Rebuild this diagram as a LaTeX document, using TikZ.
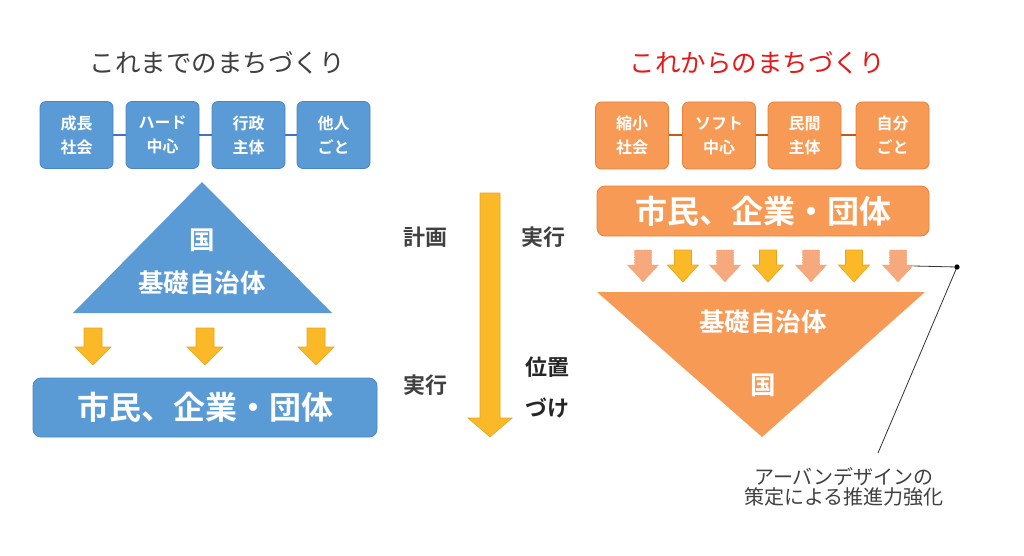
\documentclass[tikz,border=0pt]{standalone}
\usepackage{fontspec}
\setmainfont{Noto Sans CJK JP}
\newfontfamily\jpb{Noto Sans CJK JP Bold}
\definecolor{bfill}{HTML}{5B9BD5}
\definecolor{bline}{HTML}{4A86C0}
\definecolor{bconn}{HTML}{4472C4}
\definecolor{ofill}{HTML}{F79A55}
\definecolor{oline}{HTML}{E8803A}
\definecolor{oconn}{HTML}{C55A11}
\definecolor{salm}{HTML}{F5A97C}
\definecolor{salml}{HTML}{F0A070}
\definecolor{gold}{HTML}{FBB927}
\definecolor{goldl}{HTML}{E8A520}
\definecolor{txtg}{HTML}{404040}
\definecolor{hred}{HTML}{E81818}
\newcommand\myarrow[7]{% cx, top, shaft half, head half, head y, tip y, style
  \fill[#7] (#1-#3,#2) -- (#1+#3,#2) -- (#1+#3,#5) -- (#1+#4,#5) -- (#1,#6) -- (#1-#4,#5) -- (#1-#3,#5) -- cycle;}
\begin{document}
\begin{tikzpicture}[x=1pt,y=-1pt,
  sbox/.style={rounded corners=6pt,minimum width=73pt,minimum height=67pt,inner sep=0pt,align=center,text=white,font=\jpb\fontsize{16}{24}\selectfont},
  lbox/.style={sbox,fill=bfill,draw=bline,line width=0.8pt},
  rbox/.style={sbox,fill=ofill,draw=oline,line width=0.8pt},
  bigt/.style={text=white,font=\jpb\fontsize{32}{36}\selectfont,inner sep=0pt},
  trit/.style={text=white,font=\jpb\fontsize{25.5}{28}\selectfont,inner sep=0pt},
  midt/.style={text=txtg,font=\jpb\fontsize{22}{24}\selectfont,inner sep=0pt},
  head/.style={font=\fontsize{25.5}{28}\selectfont,inner sep=0pt},
  yarr/.style={fill=gold,draw=goldl,line width=0.6pt},
  sarr/.style={fill=salm,draw=salml,line width=0.6pt,densely dotted},
]
\useasboundingbox (0,0) rectangle (1024,556);
\fill[white] (0,0) rectangle (1024,556);

% headings
\node[head,text=txtg] (hl) at (217,63) {これまでのまちづくり};
\node[head,text=hred] (hr) at (757,63) {これからのまちづくり};

% left boxes
\node[lbox] (l1) at (76.5,135) {成長\\社会};
\node[lbox] (l2) at (162.5,135) {ハード\\中心};
\node[lbox] (l3) at (248.5,135) {行政\\主体};
\node[lbox] (l4) at (333.5,135) {他人\\ごと};
\draw[bconn,line width=2pt] (l1) -- (l2);
\draw[bconn,line width=2pt] (l2) -- (l3);
\draw[bconn,line width=2pt] (l3) -- (l4);

% left triangle
\fill[bfill] (202,182) -- (332,313) -- (73,313) -- cycle;
\node[trit] (lk) at (202,240) {国};
\node[trit] (lj) at (202,283) {基礎自治体};

% left arrows
\myarrow{93}{328}{9}{18}{347}{365}{yarr}
\myarrow{205}{328}{9}{18}{347}{365}{yarr}
\myarrow{316}{328}{9}{18}{347}{365}{yarr}

% left big box
\node[rounded corners=8pt,fill=bfill,draw=bline,line width=0.8pt,minimum width=344pt,minimum height=59pt,inner sep=0pt] (lb) at (205,407.5) {};
\node[bigt] (lbt) at (lb.center) {市民、企業・団体};

% middle arrow
\myarrow{490}{193}{10}{22}{418}{437}{fill=gold,draw=goldl,line width=0.6pt}
\node[midt] (m1) at (425,237) {計画};
\node[midt] (m2) at (543,237) {実行};
\node[midt] (m3) at (425,385) {実行};
\node[midt,text=black!85] (m4) at (547,367) {位置};
\node[midt,text=black!85] (m5) at (547,408) {づけ};

% right boxes
\node[rbox] (r1) at (632,135.5) {縮小\\社会};
\node[rbox] (r2) at (719,135.5) {ソフト\\中心};
\node[rbox] (r3) at (804.5,135.5) {民間\\主体};
\node[rbox] (r4) at (892.5,135.5) {自分\\ごと};
\draw[oconn,line width=2pt] (r1) -- (r2);
\draw[oconn,line width=2pt] (r2) -- (r3);
\draw[oconn,line width=2pt] (r3) -- (r4);

% right big box
\node[rounded corners=8pt,fill=ofill,draw=oline,line width=0.8pt,minimum width=332pt,minimum height=50pt,inner sep=0pt] (rb) at (763,211) {};
\node[bigt] (rbt) at (rb.center) {市民、企業・団体};

% right arrows
\myarrow{643}{250}{8.5}{15.5}{265}{282}{sarr}
\myarrow{683}{250}{8.5}{15.5}{265}{282}{yarr}
\myarrow{725}{250}{8.5}{15.5}{265}{282}{sarr}
\myarrow{768}{250}{8.5}{15.5}{265}{282}{yarr}
\myarrow{811}{250}{8.5}{15.5}{265}{282}{sarr}
\myarrow{854}{250}{8.5}{15.5}{265}{282}{yarr}
\myarrow{898}{250}{8.5}{15.5}{265}{282}{sarr}
\coordinate (atip) at (913.5,266);

% right inverted triangle
\fill[ofill] (597,292) -- (925,292) -- (762,437) -- cycle;
\node[trit] (rj) at (763,322) {基礎自治体};
\node[trit] (rk) at (763,385) {国};

% annotation
\coordinate (dot) at (957,267);
\coordinate (lend) at (878,453);
\node[text=txtg,font=\fontsize{20}{20}\selectfont,align=center,inner sep=0pt] (ann) at (844,487) {アーバンデザインの\\策定による推進力強化};
\draw[black!80,line width=0.8pt] (atip) -- (dot) -- (lend);
\fill[black] (dot) circle (2.6pt);
\end{tikzpicture}
\end{document}
